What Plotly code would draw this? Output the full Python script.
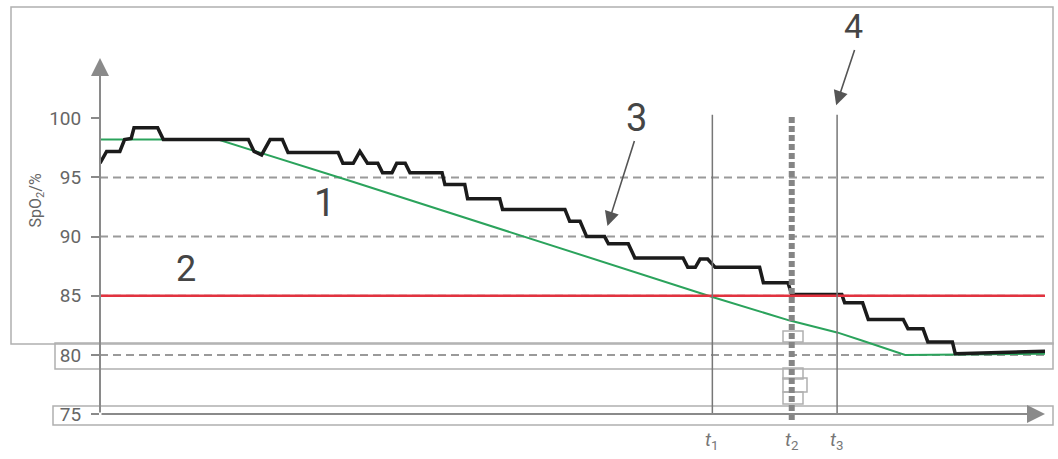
import plotly.graph_objects as go

# ---------------- data ----------------
# measured SpO2 (black stepped trace), time in arbitrary units (0..100 = axis length)
spo2_time = [0, 0.7, 2.1, 2.6, 3.3, 3.6, 6.1, 6.7, 15.7, 16.3, 17.1, 18.0, 19.3, 19.9,
             25.2, 25.7, 26.8, 27.5, 28.3, 29.4, 29.9, 30.9, 31.4, 32.3, 32.8, 36.2,
             36.5, 38.6, 38.9, 42.3, 42.6, 49.2, 49.7, 50.8, 51.5, 53.4, 53.8, 55.9,
             56.6, 61.7, 62.2, 63.0, 63.5, 64.3, 65.1, 69.8, 70.2, 72.8, 73.2, 78.5,
             78.8, 80.7, 81.3, 85.0, 85.5, 87.1, 87.6, 90.2, 90.5, 100.0]
spo2_value = [96.2, 97.2, 97.2, 98.2, 98.3, 99.2, 99.2, 98.2, 98.2, 97.2, 96.9, 98.2, 98.2, 97.1,
              97.1, 96.2, 96.2, 97.2, 96.2, 96.2, 95.4, 95.4, 96.2, 96.2, 95.4, 95.4,
              94.4, 94.4, 93.2, 93.2, 92.3, 92.3, 91.3, 91.3, 90.0, 90.0, 89.4, 89.4,
              88.2, 88.2, 87.4, 87.4, 88.1, 88.1, 87.4, 87.4, 86.1, 86.1, 85.1, 85.1,
              84.4, 84.4, 83.0, 83.0, 82.2, 82.2, 81.1, 81.1, 80.1, 80.3]

# reference / predicted trend (green line)
trend_time = [0, 12.5, 26.5, 64.8, 73.0, 78.0, 80.7, 84.3, 85.2, 100.0]
trend_value = [98.2, 98.2, 94.7, 84.9, 82.9, 81.9, 81.2, 80.2, 80.0, 80.1]

threshold = 85                       # red alarm limit (label 2)
grid_levels = [95, 90, 85, 80]       # dashed reference levels
y_ticks = [75, 80, 85, 90, 95, 100]
event_times = {"t1": 64.8, "t2": 73.2, "t3": 78.0}
event_labels = ["<i>t</i><sub>1</sub>", "<i>t</i><sub>2</sub>", "<i>t</i><sub>3</sub>"]

# ---------------- layout constants ----------------
W, H = 1058, 459
ML, MR = 100, 13
Y0, Y1 = 71.2, 110.0
FONT = "Roboto"
GRAY = "#8a8a8a"
TXT = "#454545"


def xp(px):
    return (px - ML) / (W - ML - MR)


def yp(py):
    return 1 - py / H


fig = go.Figure()

shapes = []
# frame boxes (paper coords)
for (x0, y0, x1, y1) in [(11, 7, 1053, 344), (55, 343, 1053, 369), (53, 406, 1053, 425),
                         (783, 331, 803, 342), (783, 368, 803, 379), (783, 378, 807, 392),
                         (783, 392, 803, 404)]:
    shapes.append(dict(type="rect", xref="paper", yref="paper",
                       x0=xp(x0), x1=xp(x1), y0=yp(y1), y1=yp(y0),
                       line=dict(color="#b0b0b0", width=1.5), fillcolor="rgba(0,0,0,0)",
                       layer="below"))

# dashed grid levels
for g in grid_levels:
    shapes.append(dict(type="line", xref="x", yref="y", x0=0, x1=100.3, y0=g, y1=g,
                       line=dict(color="#9a9a9a", width=2, dash="8px,5px"), layer="below"))
# red threshold
shapes.append(dict(type="line", xref="x", yref="y", x0=0, x1=100.3, y0=threshold, y1=threshold,
                   line=dict(color="#e2323f", width=2.5)))
# event verticals
shapes.append(dict(type="line", xref="x", yref="y", x0=event_times["t1"], x1=event_times["t1"],
                   y0=75, y1=100.3, line=dict(color="#777", width=1.5)))
shapes.append(dict(type="line", xref="x", yref="y", x0=event_times["t3"], x1=event_times["t3"],
                   y0=75, y1=100.3, line=dict(color="#777", width=1.5)))
shapes.append(dict(type="line", xref="x", yref="y", x0=event_times["t2"], x1=event_times["t2"],
                   y0=74.5, y1=100.2, line=dict(color="#858585", width=6, dash="6px,3px")))

fig.add_trace(go.Scatter(x=trend_time, y=trend_value, mode="lines",
                         line=dict(color="#2ba35c", width=2), hoverinfo="skip", showlegend=False))
fig.add_trace(go.Scatter(x=spo2_time, y=spo2_value, mode="lines",
                         line=dict(color="#1b1b1b", width=3.5), hoverinfo="skip", showlegend=False))

annotations = []
# axis arrows
annotations.append(dict(x=0, y=105.1, ax=0, ay=75, xref="x", yref="y", axref="x", ayref="y",
                        text="", showarrow=True, arrowhead=2, arrowsize=1.8, arrowwidth=2,
                        arrowcolor=GRAY))
annotations.append(dict(x=100, y=75, ax=0, ay=75, xref="x", yref="y", axref="x", ayref="y",
                        text="", showarrow=True, arrowhead=2, arrowsize=1.8, arrowwidth=2,
                        arrowcolor=GRAY))
# number labels
for txt, x, y, s in [("1", 23.8, 92.8, 38), ("2", 9.1, 87.3, 36), ("3", 56.8, 100.0, 38),
                     ("4", 79.7, 107.8, 34)]:
    annotations.append(dict(x=x, y=y, xref="x", yref="y", text=txt, showarrow=False,
                            font=dict(family=FONT, size=s, color=TXT)))
# pointer arrows for 3 and 4
annotations.append(dict(x=53.7, y=90.9, ax=56.6, ay=98.2, xref="x", yref="y", axref="x", ayref="y",
                        text="", showarrow=True, arrowhead=2, arrowsize=1.8, arrowwidth=1.6,
                        arrowcolor="#555"))
annotations.append(dict(x=77.9, y=101.1, ax=79.9, ay=105.9, xref="x", yref="y", axref="x", ayref="y",
                        text="", showarrow=True, arrowhead=2, arrowsize=1.8, arrowwidth=1.6,
                        arrowcolor="#555"))
# t labels
for (k, t), lab in zip(event_times.items(), event_labels):
    annotations.append(dict(x=t, y=72.8, xref="x", yref="y", text=lab, showarrow=False,
                            font=dict(family=FONT, size=19, color="#777")))
# y title
annotations.append(dict(x=xp(23), y=yp(201), xref="paper", yref="paper",
                        text="SpO<sub>2</sub>/%", textangle=-90, showarrow=False,
                        font=dict(family=FONT, size=16, color="#666")))

fig.update_layout(
    width=W, height=H,
    margin=dict(l=ML, r=MR, t=0, b=0, pad=0),
    paper_bgcolor="white", plot_bgcolor="rgba(0,0,0,0)",
    shapes=shapes, annotations=annotations,
    xaxis=dict(range=[0, 100], visible=False, fixedrange=True),
    yaxis=dict(range=[Y0, Y1], tickvals=y_ticks, ticks="outside", ticklen=8, tickwidth=1.5,
               tickcolor=GRAY, showgrid=False, zeroline=False, showline=False,
               ticklabelstandoff=6,
               tickfont=dict(family=FONT, size=19, color="#666"), fixedrange=True),
)

fig.write_html("out.html", config={"displayModeBar": False},
               post_script="document.body.style.margin='0';")
